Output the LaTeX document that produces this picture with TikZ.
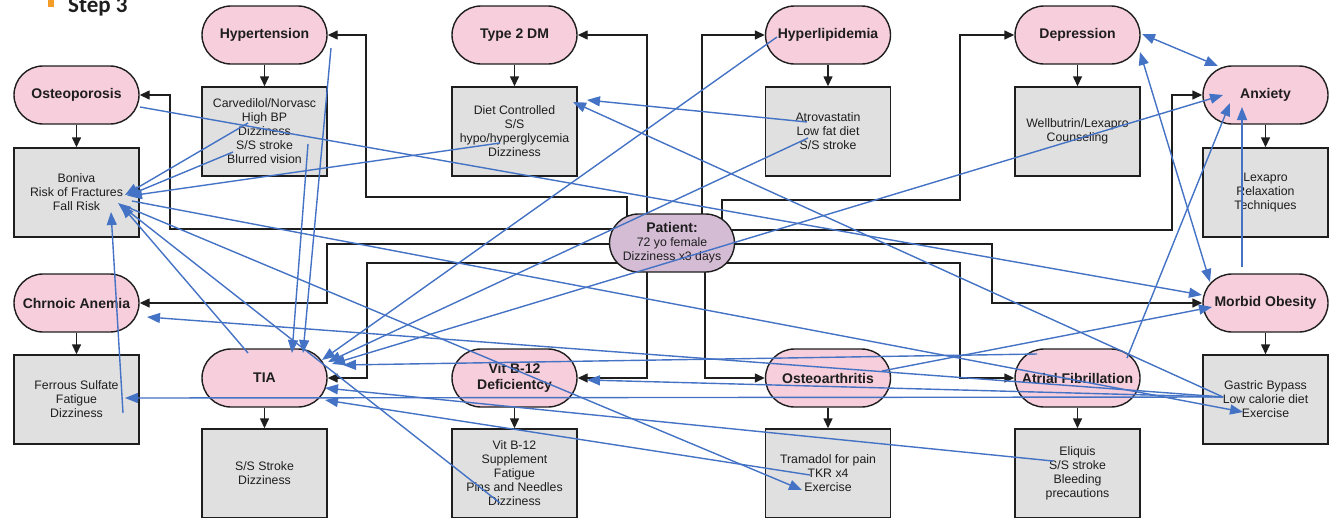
\documentclass[tikz,border=0pt]{standalone}
\usepackage{fontspec}
\setmainfont{Liberation Sans}
\newfontfamily\stepfont{Carlito}
\usetikzlibrary{arrows.meta,calc}
\definecolor{pillpink}{RGB}{246,206,220}
\definecolor{patpurple}{RGB}{212,188,212}
\definecolor{boxgrey}{RGB}{224,224,224}
\definecolor{linkblue}{RGB}{68,114,196}
\definecolor{bulletorange}{RGB}{243,156,40}
\definecolor{inkdark}{RGB}{30,30,30}
\pgfdeclarelayer{bg}
\pgfsetlayers{bg,main}
\begin{document}
\begin{tikzpicture}[x=1pt,y=-1pt,
  pill/.style={draw=inkdark,line width=1.4pt,fill=pillpink,rounded corners=29pt,
    minimum width=125pt,minimum height=58pt,inner sep=0pt,align=center,
    font=\fontsize{14}{16}\selectfont\bfseries,text=inkdark},
  patpill/.style={pill,fill=patpurple,font=\fontsize{12.3}{14}\selectfont},
  infobox/.style={draw=inkdark,line width=1.4pt,fill=boxgrey,minimum width=125pt,
    minimum height=89pt,inner sep=0pt,align=center,
    font=\fontsize{12.3}{14}\selectfont,text=inkdark},
  blk/.style={draw=inkdark,line width=1.4pt,-{Triangle[length=10pt,width=9pt]}},
  lnk/.style={draw=linkblue,line width=1.4pt,-{Triangle[length=13pt,width=10pt]}},
  lnkboth/.style={draw=linkblue,line width=1.4pt,{Triangle[length=13pt,width=10pt]}-{Triangle[length=13pt,width=10pt]}}
]
\useasboundingbox (0,0) rectangle (1332,517);

% title
\fill[bulletorange] (48,0) rectangle (54,7);
\node[anchor=base west,inner sep=0pt,text=inkdark,font=\stepfont\bfseries\fontsize{23}{23}\selectfont] (step) at (68,12) {Step 3};

% pills
\node[pill] (hyp) at (264.5,35) {Hypertension};
\node[pill] (dm)  at (514.5,35) {Type 2 DM};
\node[pill] (lip) at (828,35) {Hyperlipidemia};
\node[pill] (dep) at (1077.5,35) {Depression};
\node[pill] (ost) at (76.5,95) {Osteoporosis};
\node[pill] (anx) at (1265.5,95) {Anxiety};
\node[pill] (ane) at (76.5,303) {Chrnoic Anemia};
\node[pill] (mo)  at (1265.5,303) {Morbid Obesity};
\node[pill] (tia) at (264.5,378) {TIA};
\node[pill] (b12) at (514.5,378) {Vit B-12\\Deficientcy};
\node[pill] (oa)  at (828,378) {Osteoarthritis};
\node[pill] (af)  at (1077.5,378) {Atrial Fibrillation};
\node[patpill] (pat) at (672,243) {{\bfseries\fontsize{14}{16}\selectfont Patient:}\\72 yo female\\Dizziness x3 days};

% boxes
\node[infobox] (hypb) at (264.5,131.5) {Carvedilol/Norvasc\\High BP\\Dizziness\\S/S stroke\\Blurred vision};
\node[infobox] (dmb)  at (514.5,131.5) {Diet Controlled\\S/S\\hypo/hyperglycemia\\Dizziness};
\node[infobox] (lipb) at (828,131.5) {Atrovastatin\\Low fat diet\\S/S stroke};
\node[infobox] (depb) at (1077.5,131.5) {Wellbutrin/Lexapro\\Counseling};
\node[infobox] (ostb) at (76.5,192.5) {Boniva\\Risk of Fractures\\Fall Risk};
\node[infobox] (anxb) at (1265.5,192.5) {Lexapro\\Relaxation\\Techniques};
\node[infobox] (aneb) at (76.5,399.5) {Ferrous Sulfate\\Fatigue\\Dizziness};
\node[infobox] (mob)  at (1265.5,399.5) {Gastric Bypass\\Low calorie diet\\Exercise};
\node[infobox] (tiab) at (264.5,473.5) {S/S Stroke\\Dizziness};
\node[infobox] (b12b) at (514.5,473.5) {Vit B-12\\Supplement\\Fatigue\\Pins and Needles\\Dizziness};
\node[infobox] (oab)  at (828,473.5) {Tramadol for pain\\TKR x4\\Exercise};
\node[infobox] (afb)  at (1077.5,473.5) {Eliquis\\S/S stroke\\Bleeding\\precautions};

% pill -> box arrows
\foreach \p/\b in {hyp/hypb,dm/dmb,lip/lipb,dep/depb,ost/ostb,anx/anxb,ane/aneb,mo/mob,tia/tiab,b12/b12b,oa/oab,af/afb}
  \draw[blk] (\p) -- (\b);

% patient connectors (behind nodes)
\begin{pgfonlayer}{bg}
\draw[blk] (pat.center -| 647,0) |- (dm.east);
\draw[blk] (pat.center -| 702,0) |- (lip.west);
\draw[blk] (pat.center -| 627,0) -- (627,197) -- (366,197) |- (hyp.east);
\draw[blk] (pat.center |- 0,229) -- (170,229) |- (ost.east);
\draw[blk] (pat.center |- 0,244) -- (327,244) |- (ane.east);
\draw[blk] (pat.center |- 0,263) -- (367,263) |- (tia.east);
\draw[blk] (pat.center -| 647,0) |- (b12.east);
\draw[blk] (pat.center -| 705,0) |- (oa.west);
\draw[blk] (pat.center -| 722,0) -- (722,200) -- (960,200) |- (dep.west);
\draw[blk] (pat.center |- 0,230) -- (1172,230) |- (anx.west);
\draw[blk] (pat.center |- 0,244) -- (992,244) |- (mo.west);
\draw[blk] (pat.center |- 0,263) -- (960,263) |- (af.west);
\end{pgfonlayer}

% blue link coordinates
\coordinate (hypbA) at (248,123);
\coordinate (hypbB) at (233,152);
\coordinate (hypbC) at (308,144);
\coordinate (hypR)  at (331,48);
\coordinate (dmbA)  at (500,143);
\coordinate (dmbIn1) at (587,100);
\coordinate (dmbIn2) at (573,102);
\coordinate (lipA)  at (777,37);
\coordinate (lipbA) at (807,122);
\coordinate (lipbB) at (808,138);
\coordinate (ostR)  at (140,107);
\coordinate (ostb1) at (125,195);
\coordinate (ostb2) at (127,196);
\coordinate (ostb3) at (129,196);
\coordinate (ostb4) at (132,201);
\coordinate (ostb5) at (111,212);
\coordinate (ostb6) at (121,205);
\coordinate (ostb7) at (118,203);
\coordinate (ostb8) at (127,207);
\coordinate (aneb1) at (123,413);
\coordinate (aneb2) at (125,398);
\coordinate (aneIn) at (147,317);
\coordinate (tiaTL) at (248,353);
\coordinate (tiaT1) at (292,353);
\coordinate (tiaT2) at (303,353);
\coordinate (tiaC1) at (322,360);
\coordinate (tiaC2) at (328,362);
\coordinate (tiaC3) at (332,364);
\coordinate (tiaR1) at (343,365);
\coordinate (tiaR2) at (325,388);
\coordinate (tiaR3) at (325,400);
\coordinate (b12bD) at (500,503);
\coordinate (b12In) at (587,380);
\coordinate (oabE)  at (802,490);
\coordinate (oabT)  at (810,475);
\coordinate (oaR)   at (882,371);
\coordinate (afA)   at (1037,354);
\coordinate (afB)   at (1127,358);
\coordinate (afbS)  at (1053,461);
\coordinate (depR)  at (1142,34);
\coordinate (depRB) at (1140,52);
\coordinate (anxL)  at (1218,66);
\coordinate (anxIn1) at (1223,95);
\coordinate (anxIn2) at (1230,103);
\coordinate (anxIn3) at (1242,107);
\coordinate (moTop) at (1210,282);
\coordinate (moIn1) at (1202,295);
\coordinate (moIn2) at (1212,307);
\coordinate (moUp)  at (1242,267);
\coordinate (mobL)  at (1223,397);
\coordinate (mobE)  at (1243,412);

% blue links
\draw[lnk] (hypbA) -- (ostb1);
\draw[lnk] (hypbB) -- (ostb2);
\draw[lnk] (dmbA) -- (ostb3);
\draw[lnk] (ostR) -- (moIn1);
\draw[lnk] (ostb4) -- (mobE);
\draw[lnk] (aneb1) -- (ostb5);
\draw[lnk] (tiaTL) -- (ostb6);
\draw[lnk] (b12bD) -- (ostb7);
\draw[lnk] (ostb8) -- (oabE);
\draw[lnk] (hypR) -- (tiaT2);
\draw[lnk] (hypbC) -- (tiaT1);
\draw[lnk] (lipA) -- (tiaC1);
\draw[lnk] (lipbB) -- (tiaC2);
\draw[lnk] (lipbA) -- (dmbIn1);
\draw[lnk] (mobL) -- (dmbIn2);
\draw[lnkboth] (anxIn1) -- (tiaC3);
\draw[lnk] (afA) -- (tiaR1);
\draw[lnk] (afbS) -- (tiaR2);
\draw[lnk] (oabT) -- (tiaR3);
\draw[lnk] (mobL) -- (aneb2);
\draw[lnk] (mobL) -- (aneIn);
\draw[lnk] (mobL) -- (b12In);
\draw[lnkboth] (depR) -- (anxL);
\draw[lnkboth] (depRB) -- (moTop);
\draw[lnk] (afB) -- (anxIn2);
\draw[lnk] (moUp) -- (anxIn3);
\draw[lnk] (oaR) -- (moIn2);
\end{tikzpicture}
\end{document}
